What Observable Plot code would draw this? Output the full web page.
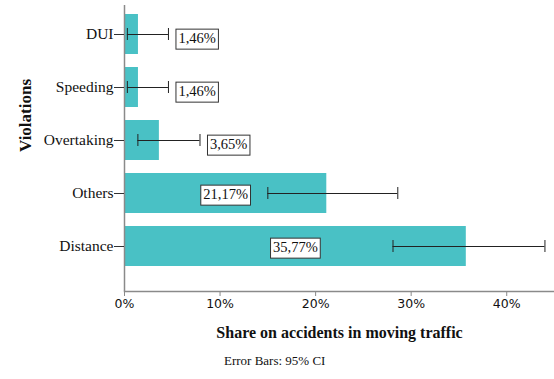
<!DOCTYPE html>
<html>
<head>
<meta charset="utf-8">
<script src="https://cdn.jsdelivr.net/npm/d3@7"></script>
<script src="https://cdn.jsdelivr.net/npm/@observablehq/plot@0.6"></script>
<style>
  body { margin: 0; background: #fff; }
  #caption {
    font-family: "Liberation Serif", serif;
    font-size: 13px;
    line-height: 15px;
    color: #111;
    margin: 8px 0 0 224px;
  }
</style>
</head>
<body>
<div id="chart"></div>
<div id="caption"></div>
<script>
// Share of each violation type among accidents in moving traffic, with 95% CI
const violations = ["DUI", "Speeding", "Overtaking", "Others", "Distance"];
const share = [1.46, 1.46, 3.65, 21.17, 35.77];
const ciLow = [0.3, 0.3, 1.4, 15.0, 28.1];
const ciHigh = [4.6, 4.6, 7.9, 28.6, 44.0];
const xTicks = [0, 10, 20, 30, 40];
const xTitle = "Share on accidents in moving traffic";
const yTitle = "Violations";
const captionText = "Error Bars: 95% CI";

const rows = violations.map((v, i) => ({
  violation: v,
  share: share[i],
  low: ciLow[i],
  high: ciHigh[i],
  label: share[i].toFixed(2).replace(".", ",") + "%"
}));
const inside = rows.filter(d => d.share > 10);
const outside = rows.filter(d => d.share <= 10);
const labelSet = new Set(rows.map(d => d.label));

const barColor = "#49c1c5";
const axisGrey = "#8a8a8a";
const ink = "#222";

const plot = Plot.plot({
  width: 554,
  height: 345,
  marginTop: 5,
  marginBottom: 54,
  marginLeft: 124,
  marginRight: 0,
  style: { fontFamily: "Liberation Serif, serif", fontSize: "15.5px", color: "#111", background: "#fff" },
  x: { domain: [0, 45] },
  y: { domain: violations, range: [1.5, 279.5], padding: 0.245 },
  marks: [
    Plot.barX(rows, { x: "share", y: "violation", fill: barColor }),
    // confidence intervals
    Plot.ruleY(rows, { x1: "low", x2: "high", y: "violation", stroke: ink, strokeWidth: 1 }),
    Plot.tickX(rows, { x: "low", y: "violation", stroke: ink, insetTop: 14, insetBottom: 14 }),
    Plot.tickX(rows, { x: "high", y: "violation", stroke: ink, insetTop: 14, insetBottom: 14 }),
    // axis lines
    Plot.ruleX([0], { stroke: axisGrey, strokeWidth: 1.5 }),
    Plot.frame({ anchor: "bottom", stroke: axisGrey, strokeWidth: 1.5 }),
    Plot.axisY({ tickSize: 10, tickPadding: 1, label: null, stroke: "#333", fill: "#111" }),
    Plot.axisX({
      ticks: xTicks, tickFormat: d => d + "%", tickSize: 5, tickPadding: 3,
      stroke: axisGrey, fill: "#111", fontFamily: "DejaVu Sans, sans-serif", fontSize: 12.5, label: null
    }),
    // value labels
    Plot.text(inside, {
      x: d => d.share / 2, y: "violation", text: "label", dy: 1,
      fontSize: 14.5, fill: "#111"
    }),
    Plot.text(outside, {
      x: "high", y: "violation", text: "label", dx: 10, dy: 4, textAnchor: "start",
      fontSize: 14.5, fill: "#111"
    }),
    // axis titles
    Plot.text([xTitle], {
      frameAnchor: "bottom", dy: 46, text: d => d, fontWeight: "bold", fontSize: 16, fill: "#111"
    }),
    Plot.text([yTitle], {
      frameAnchor: "left", textAnchor: "middle", dx: -99, dy: -33, rotate: -90,
      text: d => d, fontWeight: "bold", fontSize: 17, fill: "#111"
    })
  ]
});

document.getElementById("chart").append(plot);
document.getElementById("caption").textContent = captionText;

// framed boxes behind the value labels
plot.querySelectorAll("text").forEach(t => {
  if (!labelSet.has(t.textContent)) return;
  const b = t.getBBox();
  const r = document.createElementNS("http://www.w3.org/2000/svg", "rect");
  r.setAttribute("x", b.x - 2.5);
  r.setAttribute("y", b.y - 1);
  r.setAttribute("width", b.width + 5);
  r.setAttribute("height", b.height + 4);
  r.setAttribute("fill", "#fff");
  r.setAttribute("stroke", "#333");
  r.setAttribute("stroke-width", 1);
  const tr = t.getAttribute("transform");
  if (tr) r.setAttribute("transform", tr);
  t.parentNode.insertBefore(r, t);
});
</script>
</body>
</html>
